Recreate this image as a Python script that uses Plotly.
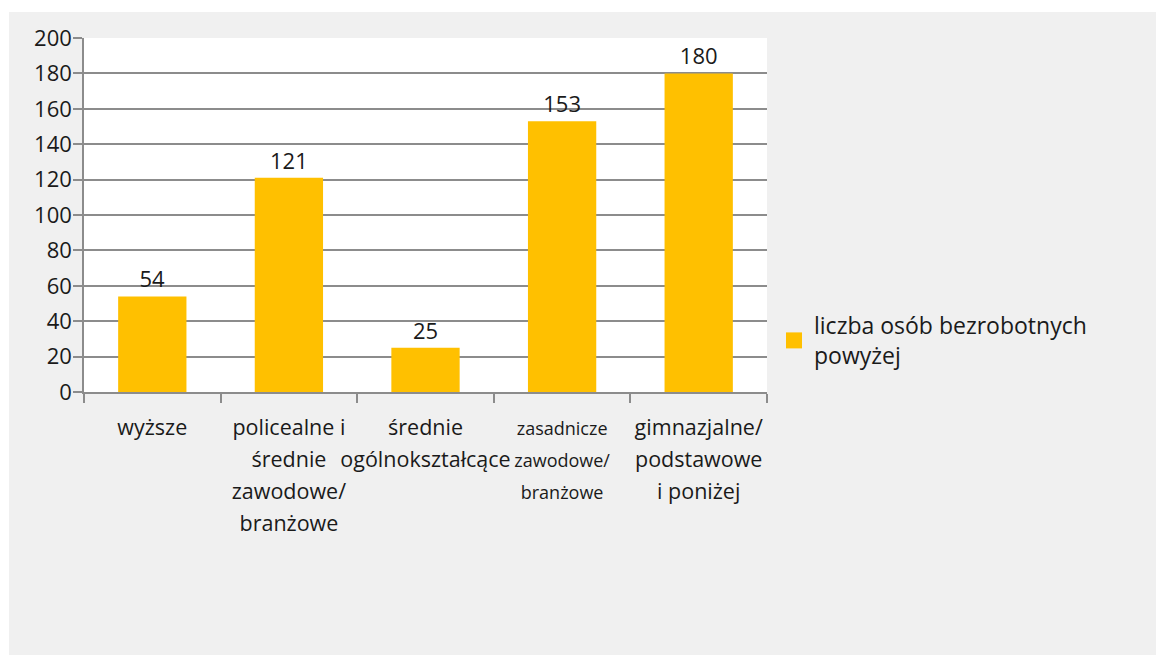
import plotly.graph_objects as go

categories = [
    "wyższe",
    "policealne i<br>średnie<br>zawodowe/<br>branżowe",
    "średnie<br>ogólnokształcące",
    "zasadnicze<br>zawodowe/<br>branżowe",
    "gimnazjalne/<br>podstawowe<br>i poniżej",
]
values = [54, 121, 25, 153, 180]
series_name = "liczba osób bezrobotnych<br>powyżej"
y_ticks = list(range(0, 201, 20))

# page body adds an 8px offset; coordinates below are figure pixels
OFF = 8
W, H = 1164, 655
L, R, T, B = 84 - OFF, 767 - OFF, 38 - OFF, 392 - OFF
pw, ph = R - L, B - T

def px_x(x):
    return (x - L) / pw

def px_y(y):
    return (B - y) / ph

tick_text = []
for i, c in enumerate(categories):
    size = 18 if i == 3 else 21.5
    tick_text.append("<br>".join(f"<span style='font-size:{size}px'>{p}</span>" for p in c.split("<br>")))

COLOR = "#FFC000"
fig = go.Figure()
fig.add_trace(go.Bar(
    x=categories,
    y=values,
    name=series_name,
    marker=dict(color=COLOR, line=dict(width=0)),
    text=values,
    textposition="outside",
    textfont=dict(size=22, color="#1a1a1a"),
    cliponaxis=False,
    showlegend=False,
))
# legend entry with a larger square symbol
fig.add_trace(go.Scatter(
    x=[None], y=[None], mode="markers", name=series_name,
    marker=dict(symbol="square", size=16, color=COLOR),
    showlegend=True,
))

grid = "#8c8c8c"
fig.update_layout(
    width=W, height=H,
    margin=dict(l=L, r=W - R, t=T, b=H - B),
    paper_bgcolor="#f0f0f0",
    plot_bgcolor="#ffffff",
    font=dict(family="Open Sans, sans-serif", color="#1a1a1a"),
    bargap=0.5,
    showlegend=True,
    legend=dict(
        x=px_x(766), y=px_y(296), xanchor="left", yanchor="top",
        font=dict(size=23, color="#1a1a1a"),
        bgcolor="rgba(0,0,0,0)",
        valign="middle",
    ),
    xaxis=dict(
        type="category",
        categoryorder="array",
        categoryarray=categories,
        tickmode="array",
        tickvals=categories,
        ticktext=tick_text,
        tickfont=dict(size=24.5, color="#1a1a1a"),
        showline=True, linecolor=grid, linewidth=1.5,
        ticks="outside", tickson="boundaries", ticklen=9, tickcolor=grid, tickwidth=1.5,
        ticklabelstandoff=12,
        showgrid=False, zeroline=False, tickangle=0,
    ),
    yaxis=dict(
        range=[0, 200],
        tickvals=y_ticks,
        tickfont=dict(size=22, color="#1a1a1a"),
        showline=True, linecolor=grid, linewidth=1.5,
        ticks="outside", ticklen=9, tickcolor=grid, tickwidth=1.5,
        ticklabelstandoff=-3,
        showgrid=True, gridcolor=grid, gridwidth=1.5,
        zeroline=False,
    ),
    shapes=[
        dict(type="rect", xref="paper", yref="paper", layer="above",
             x0=px_x(-5), x1=px_x(W + 5), y0=px_y(12 - OFF), y1=px_y(-5),
             fillcolor="#ffffff", line=dict(width=0)),
        dict(type="rect", xref="paper", yref="paper", layer="above",
             x0=px_x(-5), x1=px_x(9 - OFF), y0=px_y(H + 5), y1=px_y(-5),
             fillcolor="#ffffff", line=dict(width=0)),
    ],
)

fig.write_html("out.html")
